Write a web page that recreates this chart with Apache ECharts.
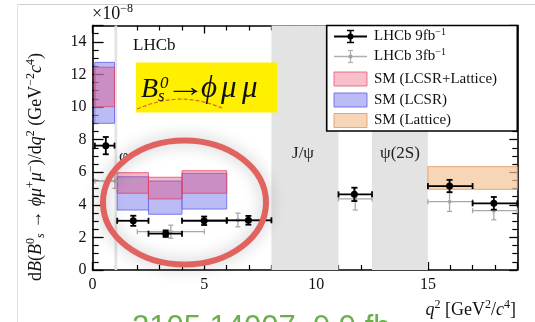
<!DOCTYPE html>
<html>
<head>
<meta charset="utf-8">
<script src="https://cdn.jsdelivr.net/npm/echarts@6/dist/echarts.min.js"></script>
<style>
html,body{margin:0;padding:0;background:#fff;}
#c{width:535px;height:322px;}
</style>
</head>
<body>
<div id="c"></div>
<script>
// ---- data (values in units of 1e-8 GeV^-2 c^4) ----
const xTickLabels = ['0', '5', '10', '15'];
const yTickLabels = ['0', '2', '4', '6', '8', '10', '12', '14'];

// LHCb 9 fb^-1
const bins9Lo = [0.1, 1.1, 2.5, 4.0, 6.0, 11.0, 15.0, 17.0];
const bins9Hi = [0.98, 2.5, 4.0, 6.0, 8.0, 12.5, 17.0, 19.0];
const mean9   = [0.59, 1.82, 3.27, 4.99, 6.97, 11.71, 15.97, 17.95];
const val9    = [7.63, 3.02, 2.23, 3.02, 3.05, 4.64, 5.15, 4.09];
const err9    = [0.53, 0.31, 0.20, 0.26, 0.27, 0.41, 0.38, 0.39];

// LHCb 3 fb^-1
const bins3Lo = [0.1, 2.0, 5.0, 11.0, 15.0, 17.0];
const bins3Hi = [2.0, 5.0, 8.0, 12.5, 17.0, 19.0];
const mean3   = [1.0, 3.5, 6.5, 11.75, 15.97, 17.95];
const val3    = [5.46, 2.35, 3.07, 4.36, 4.19, 3.64];
const err3    = [0.45, 0.40, 0.42, 0.68, 0.60, 0.56];

// SM predictions
const smLo       = [0.1, 1.1, 2.5, 4.0];
const smHi       = [0.98, 2.5, 4.0, 6.0];
const lcsrMin    = [9.0, 3.68, 3.42, 3.74];
const lcsrMax    = [12.74, 5.72, 5.46, 5.93];
const combMin    = [10.02, 4.71, 4.36, 4.71];
const combMax    = [12.44, 5.97, 5.69, 6.09];
const latLo      = [15.0];
const latHi      = [19.0];
const latMin     = [4.95];
const latMax     = [6.34];

// vetoed resonance regions
const vetoLo = [0.98, 8.0, 12.5];
const vetoHi = [1.1, 11.0, 15.0];
const vetoNames = ['φ', 'J/ψ', 'ψ(2S)'];

const legendNames = ['LHCb 9fb', 'LHCb 3fb', 'SM (LCSR+Lattice)', 'SM (LCSR)', 'SM (Lattice)'];

// ---- build ----
const SERIF = '"Liberation Serif", "DejaVu Serif", serif';
const chart = echarts.init(document.getElementById('c'), null, {renderer: 'canvas'});

function rectData(lo, hi, mn, mx) {
  return lo.map((v, i) => [v, hi[i], mn[i], mx[i]]);
}
function rectRender(fill, stroke, lw) {
  return function (params, api) {
    const p0 = api.coord([api.value(0), api.value(3)]);
    const p1 = api.coord([api.value(1), api.value(2)]);
    return {
      type: 'rect',
      shape: {x: p0[0], y: p0[1], width: p1[0] - p0[0], height: p1[1] - p0[1]},
      style: {fill: fill, stroke: stroke, lineWidth: lw}
    };
  };
}
function errData(lo, hi, m, v, e) {
  return lo.map((x, i) => [x, hi[i], m[i], v[i], v[i] - e[i], v[i] + e[i]]);
}
function errRender(color, lw, r, cap) {
  return function (params, api) {
    const a = api.coord([api.value(0), api.value(3)]);
    const b = api.coord([api.value(1), api.value(3)]);
    const m = api.coord([api.value(2), api.value(3)]);
    const lo = api.coord([api.value(2), api.value(4)]);
    const hi = api.coord([api.value(2), api.value(5)]);
    const ls = {stroke: color, lineWidth: lw};
    return {
      type: 'group',
      children: [
        {type: 'line', shape: {x1: a[0], y1: a[1], x2: b[0], y2: b[1]}, style: ls},
        {type: 'line', shape: {x1: a[0], y1: a[1] - cap, x2: a[0], y2: a[1] + cap}, style: ls},
        {type: 'line', shape: {x1: b[0], y1: b[1] - cap, x2: b[0], y2: b[1] + cap}, style: ls},
        {type: 'line', shape: {x1: lo[0], y1: lo[1], x2: hi[0], y2: hi[1]}, style: ls},
        {type: 'line', shape: {x1: lo[0] - cap, y1: lo[1], x2: lo[0] + cap, y2: lo[1]}, style: ls},
        {type: 'line', shape: {x1: hi[0] - cap, y1: hi[1], x2: hi[0] + cap, y2: hi[1]}, style: ls},
        {type: 'circle', shape: {cx: m[0], cy: m[1], r: r}, style: {fill: color}}
      ]
    };
  };
}

const vetoData = vetoLo.map((v, i) => [v, vetoHi[i], 0, 15]);

const axisCommon = {
  axisLine: {onZero: false, lineStyle: {color: '#000', width: 1.6}},
  splitLine: {show: false}
};

const LX = 334, LT = 374;
const legendRows = [36.5, 56.5, 79, 100, 120.5];

const option = {
  backgroundColor: '#fff',
  animation: false,
  grid: {left: 92.6, right: 17.7, top: 25.5, bottom: 52, containLabel: false},
  xAxis: [
    Object.assign({}, axisCommon, {
      type: 'value', min: 0, max: 19, interval: 5, position: 'bottom',
      axisTick: {inside: true, length: 8, lineStyle: {color: '#000', width: 1.3}},
      minorTick: {show: true, splitNumber: 5, length: 5, lineStyle: {color: '#000', width: 1.2}},
      axisLabel: {
        margin: 7, color: '#111', fontFamily: SERIF, fontSize: 16,
        showMaxLabel: false,
        formatter: v => xTickLabels[Math.round(v / 5)] || ''
      }
    }),
    Object.assign({}, axisCommon, {
      type: 'value', min: 0, max: 19, interval: 5, position: 'top',
      axisTick: {inside: true, length: 8, lineStyle: {color: '#000', width: 1.3}},
      minorTick: {show: true, splitNumber: 5, length: 5, lineStyle: {color: '#000', width: 1.2}},
      axisLabel: {show: false}
    })
  ],
  yAxis: [
    Object.assign({}, axisCommon, {
      type: 'value', min: 0, max: 15, interval: 2, position: 'left',
      axisTick: {inside: true, length: 11, lineStyle: {color: '#000', width: 1.3}},
      minorTick: {show: true, splitNumber: 4, length: 6, lineStyle: {color: '#000', width: 1.2}},
      axisLabel: {
        margin: 6, color: '#111', fontFamily: SERIF, fontSize: 16,
        showMaxLabel: false,
        formatter: v => (v % 2 === 0 && v <= 14) ? yTickLabels[v / 2] : ''
      }
    }),
    Object.assign({}, axisCommon, {
      type: 'value', min: 0, max: 15, interval: 2, position: 'right',
      axisTick: {inside: true, length: 8, lineStyle: {color: '#000', width: 1.3}},
      minorTick: {show: true, splitNumber: 4, length: 5, lineStyle: {color: '#000', width: 1.2}},
      axisLabel: {show: false}
    })
  ],
  series: [
    {type: 'custom', name: 'veto', z: 1, data: vetoData, encode: {x: [0, 1], y: [2, 3]},
     renderItem: rectRender('#e3e3e3', null, 0), silent: true},
    {type: 'custom', name: legendNames[3], z: 2, data: rectData(smLo, smHi, lcsrMin, lcsrMax),
     encode: {x: [0, 1], y: [2, 3]}, renderItem: rectRender('rgba(150,150,240,0.65)', 'rgba(110,110,235,0.9)', 1)},
    {type: 'custom', name: legendNames[2], z: 3, data: rectData(smLo, smHi, combMin, combMax),
     encode: {x: [0, 1], y: [2, 3]}, renderItem: rectRender('rgba(230,60,110,0.36)', 'rgba(225,70,100,0.8)', 1)},
    {type: 'custom', name: legendNames[4], z: 3, data: rectData(latLo, latHi, latMin, latMax),
     encode: {x: [0, 1], y: [2, 3]}, renderItem: rectRender('rgba(244,196,152,0.7)', 'rgba(225,150,90,0.8)', 1)},
    {type: 'custom', name: legendNames[1], z: 4, data: errData(bins3Lo, bins3Hi, mean3, val3, err3),
     encode: {x: [0, 1], y: [3, 4, 5]}, renderItem: errRender('#a8a8a8', 1.3, 2, 2.5)},
    {type: 'custom', name: legendNames[0], z: 5, data: errData(bins9Lo, bins9Hi, mean9, val9, err9),
     encode: {x: [0, 1], y: [3, 4, 5]}, renderItem: errRender('#000', 1.8, 3.5, 3)}
  ],
  graphic: [
    // slide frame lines
    {type: 'line', shape: {x1: 17, y1: 4.5, x2: 535, y2: 4.5}, style: {stroke: '#cfcfcf', lineWidth: 1}, z: 0},
    {type: 'line', shape: {x1: 17.5, y1: 4, x2: 17.5, y2: 322}, style: {stroke: '#e2e2e2', lineWidth: 1}, z: 0},
    // exponent
    {type: 'text', left: 92, top: 3, z: 10,
     style: {text: '{n|×10}{s|−8}', rich: {
       n: {fontFamily: SERIF, fontSize: 18, fill: '#111', verticalAlign: 'bottom'},
       s: {fontFamily: SERIF, fontSize: 12, fill: '#111', verticalAlign: 'top', padding: [0, 0, 8, 0]}}}},
    // LHCb
    {type: 'text', left: 133, top: 37, z: 10,
     style: {text: 'LHCb', fontFamily: SERIF, fontSize: 17, fill: '#111'}},
    // resonance labels
    {type: 'text', x: 124, y: 157, z: 10,
     style: {text: vetoNames[0], fontFamily: SERIF, fontSize: 17, fill: '#222', align: 'center', verticalAlign: 'middle'}},
    {type: 'text', x: 303, y: 154, z: 10,
     style: {text: vetoNames[1], fontFamily: SERIF, fontSize: 17, fill: '#222', align: 'center', verticalAlign: 'middle'}},
    {type: 'text', x: 400, y: 154, z: 10,
     style: {text: vetoNames[2], fontFamily: SERIF, fontSize: 17, fill: '#222', align: 'center', verticalAlign: 'middle'}},
    // y axis title
    {type: 'text', x: 36, y: 167, rotation: Math.PI / 2, z: 10,
     style: {
       text: '{n|d}{i|B}{n|(}{i|B}{sup|0}{sub|s}{n| → }{i|ϕμ}{sup|+}{i|μ}{sup|−}{n|)/d}{i|q}{sup|2}{n| (GeV}{sup|−2}{i|c}{sup|4}{n|)}',
       align: 'center', verticalAlign: 'middle',
       rich: {
         n: {fontFamily: SERIF, fontSize: 18, fill: '#111', lineHeight: 22},
         i: {fontFamily: SERIF, fontSize: 18, fontStyle: 'italic', fill: '#111', lineHeight: 22},
         sup: {fontFamily: SERIF, fontSize: 12, fill: '#111', verticalAlign: 'top', lineHeight: 22, padding: [0, 0, 9, 0]},
         sub: {fontFamily: SERIF, fontSize: 12, fontStyle: 'italic', fill: '#111', verticalAlign: 'bottom', lineHeight: 22, padding: [6, 0, 0, 0]}
       }}},
    // x axis title
    {type: 'text', right: 19, top: 299, z: 10,
     style: {
       text: '{i|q}{sup|2}{n| [GeV}{sup|2}{n|/}{i|c}{sup|4}{n|]}',
       rich: {
         n: {fontFamily: SERIF, fontSize: 18, fill: '#111', lineHeight: 22},
         i: {fontFamily: SERIF, fontSize: 18, fontStyle: 'italic', fill: '#111', lineHeight: 22},
         sup: {fontFamily: SERIF, fontSize: 12, fill: '#111', verticalAlign: 'top', lineHeight: 22, padding: [0, 0, 9, 0]}
       }}},
    // green citation text (clipped at bottom)
    {type: 'text', left: 132, top: 313, z: 10,
     style: {text: '2105.14007, 9.9 fb', fontFamily: '"Liberation Sans", Arial, sans-serif', fontSize: 31, fill: '#6aaf4b'}},
    // yellow label box
    {type: 'rect', shape: {x: 136, y: 62.5, width: 141, height: 50}, style: {fill: '#fff000'}, z: 20},
    {type: 'bezierCurve', shape: {x1: 137, y1: 109, x2: 222, y2: 108, cpx1: 170, cpy1: 95, cpx2: 195, cpy2: 97},
     style: {stroke: '#e0602a', lineWidth: 1.2, lineDash: [4, 2], fill: null}, z: 21},
    {type: 'text', x: 141, y: 104, z: 22,
     style: {text: 'B', fontFamily: SERIF, fontSize: 28, fontStyle: 'italic', fill: '#111', verticalAlign: 'bottom'}},
    {type: 'text', x: 160, y: 92, z: 22,
     style: {text: '0', fontFamily: SERIF, fontSize: 17, fontStyle: 'italic', fill: '#111', verticalAlign: 'bottom'}},
    {type: 'text', x: 158, y: 105, z: 22,
     style: {text: 's', fontFamily: SERIF, fontSize: 17, fontStyle: 'italic', fill: '#111', verticalAlign: 'bottom'}},
    {type: 'text', x: 165, y: 103, scaleX: 1.45, z: 22,
     style: {text: '→', fontFamily: SERIF, fontSize: 28, fill: '#111', verticalAlign: 'bottom'}},
    {type: 'text', x: 201, y: 104, z: 22,
     style: {text: 'ϕ', fontFamily: SERIF, fontSize: 31, fontStyle: 'italic', fill: '#111', verticalAlign: 'bottom'}},
    {type: 'text', x: 221, y: 104, z: 22,
     style: {text: 'μ', fontFamily: SERIF, fontSize: 31, fontStyle: 'italic', fill: '#111', verticalAlign: 'bottom'}},
    {type: 'text', x: 242, y: 104, z: 22,
     style: {text: 'μ', fontFamily: SERIF, fontSize: 31, fontStyle: 'italic', fill: '#111', verticalAlign: 'bottom'}},
    // red ellipse with shadow
    {type: 'ellipse', shape: {cx: 184.5, cy: 202.5, rx: 81.5, ry: 62}, z: 30,
     style: {fill: null, stroke: '#e0635f', lineWidth: 6, shadowBlur: 16, shadowColor: 'rgba(0,0,0,0.28)'}},
    // legend box
    {type: 'rect', shape: {x: 326.7, y: 25.5, width: 190.6, height: 105.5}, z: 40,
     style: {fill: '#fff', stroke: '#000', lineWidth: 1.6}},
    // legend symbols
    {type: 'line', shape: {x1: LX, y1: legendRows[0], x2: LX + 33, y2: legendRows[0]}, style: {stroke: '#000', lineWidth: 1.8}, z: 41},
    {type: 'line', shape: {x1: LX + 16.5, y1: legendRows[0] - 6, x2: LX + 16.5, y2: legendRows[0] + 6}, style: {stroke: '#000', lineWidth: 1.8}, z: 41},
    {type: 'line', shape: {x1: LX + 13, y1: legendRows[0] - 6, x2: LX + 20, y2: legendRows[0] - 6}, style: {stroke: '#000', lineWidth: 1.5}, z: 41},
    {type: 'line', shape: {x1: LX + 13, y1: legendRows[0] + 6, x2: LX + 20, y2: legendRows[0] + 6}, style: {stroke: '#000', lineWidth: 1.5}, z: 41},
    {type: 'circle', shape: {cx: LX + 16.5, cy: legendRows[0], r: 3}, style: {fill: '#000'}, z: 42},
    {type: 'line', shape: {x1: LX, y1: legendRows[1], x2: LX + 33, y2: legendRows[1]}, style: {stroke: '#b0b0b0', lineWidth: 1.3}, z: 41},
    {type: 'line', shape: {x1: LX + 16.5, y1: legendRows[1] - 6, x2: LX + 16.5, y2: legendRows[1] + 6}, style: {stroke: '#b0b0b0', lineWidth: 1.3}, z: 41},
    {type: 'line', shape: {x1: LX + 14, y1: legendRows[1] - 6, x2: LX + 19, y2: legendRows[1] - 6}, style: {stroke: '#b0b0b0', lineWidth: 1.2}, z: 41},
    {type: 'line', shape: {x1: LX + 14, y1: legendRows[1] + 6, x2: LX + 19, y2: legendRows[1] + 6}, style: {stroke: '#b0b0b0', lineWidth: 1.2}, z: 41},
    {type: 'circle', shape: {cx: LX + 16.5, cy: legendRows[1], r: 2}, style: {fill: '#a0a0a0'}, z: 42},
    {type: 'rect', shape: {x: LX, y: legendRows[2] - 7, width: 33, height: 14}, style: {fill: 'rgba(245,170,185,0.75)', stroke: 'rgba(225,90,110,0.8)', lineWidth: 1}, z: 41},
    {type: 'rect', shape: {x: LX, y: legendRows[3] - 7, width: 33, height: 14}, style: {fill: 'rgba(150,150,240,0.65)', stroke: 'rgba(110,110,235,0.9)', lineWidth: 1}, z: 41},
    {type: 'rect', shape: {x: LX, y: legendRows[4] - 7, width: 33, height: 14}, style: {fill: 'rgba(244,196,152,0.7)', stroke: 'rgba(225,150,90,0.8)', lineWidth: 1}, z: 41},
    // legend text
    {type: 'text', x: LT, y: legendRows[0], z: 42,
     style: {text: '{n|LHCb 9fb}{s|−1}', verticalAlign: 'middle', rich: {
       n: {fontFamily: SERIF, fontSize: 15, fill: '#111', lineHeight: 18},
       s: {fontFamily: SERIF, fontSize: 10, fill: '#111', verticalAlign: 'top', lineHeight: 18, padding: [0, 0, 8, 0]}}}},
    {type: 'text', x: LT, y: legendRows[1], z: 42,
     style: {text: '{n|LHCb 3fb}{s|−1}', verticalAlign: 'middle', rich: {
       n: {fontFamily: SERIF, fontSize: 15, fill: '#111', lineHeight: 18},
       s: {fontFamily: SERIF, fontSize: 10, fill: '#111', verticalAlign: 'top', lineHeight: 18, padding: [0, 0, 8, 0]}}}},
    {type: 'text', x: LT, y: legendRows[2], z: 42,
     style: {text: legendNames[2], fontFamily: SERIF, fontSize: 15, fill: '#111', verticalAlign: 'middle'}},
    {type: 'text', x: LT, y: legendRows[3], z: 42,
     style: {text: legendNames[3], fontFamily: SERIF, fontSize: 15, fill: '#111', verticalAlign: 'middle'}},
    {type: 'text', x: LT, y: legendRows[4], z: 42,
     style: {text: legendNames[4], fontFamily: SERIF, fontSize: 15, fill: '#111', verticalAlign: 'middle'}}
  ]
};
chart.setOption(option);
</script>
</body>
</html>
